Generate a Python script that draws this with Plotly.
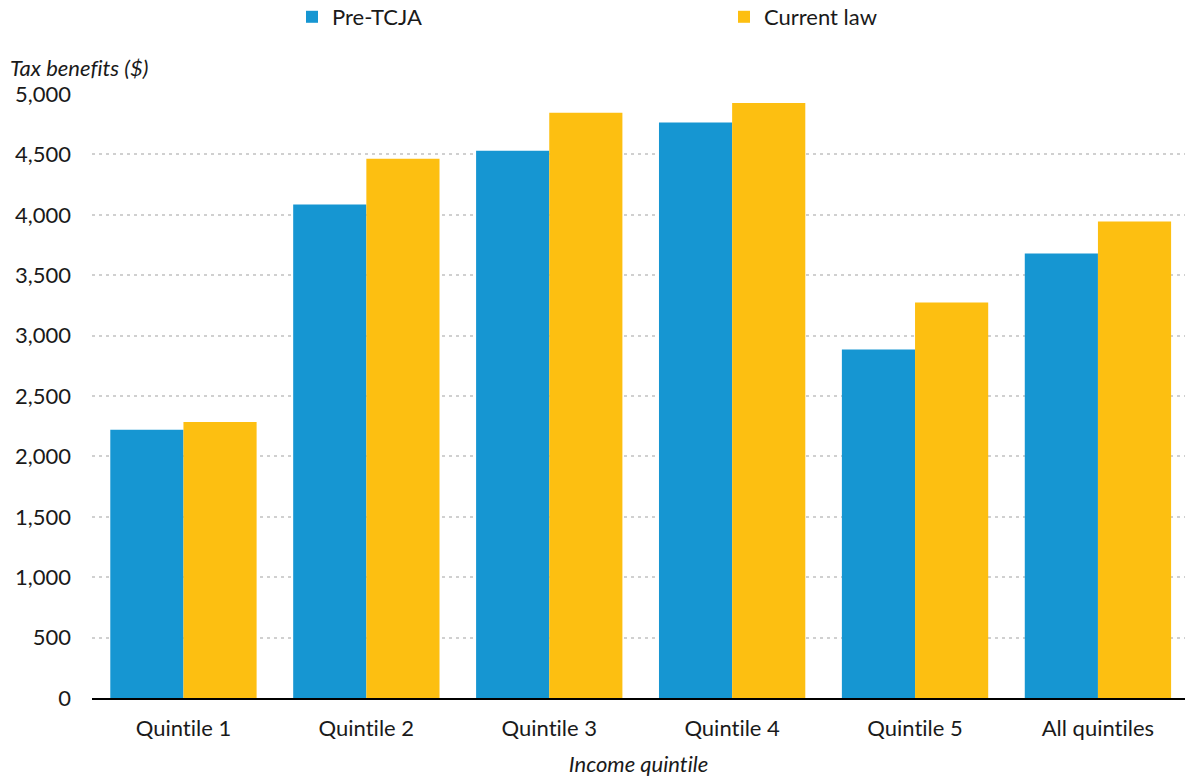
import plotly.graph_objects as go

categories = ["Quintile 1", "Quintile 2", "Quintile 3", "Quintile 4", "Quintile 5", "All quintiles"]
pre_tcja = [2220, 4085, 4530, 4765, 2885, 3680]
current_law = [2285, 4465, 4845, 4925, 3275, 3945]
y_ticks = [0, 500, 1000, 1500, 2000, 2500, 3000, 3500, 4000, 4500, 5000]
y_labels = ["0", "500", "1,000", "1,500", "2,000", "2,500", "3,000", "3,500", "4,000", "4,500", "5,000"]

FONT = "Lato"
TXT = "#1a1a1a"
FS = 22
ZWNJ = "\u200c"  # prevents the Lato 'ti'/'fi' ligatures, as in the reference


def no_lig(s):
    return s.replace("ti", "t" + ZWNJ + "i").replace("fi", "f" + ZWNJ + "i")


fig = go.Figure()
fig.add_trace(go.Bar(name="Pre-TCJA", x=categories, y=pre_tcja, showlegend=True,
                     marker=dict(color="#1696d2", line=dict(width=0)), legend="legend"))
fig.add_trace(go.Bar(name="Current law", x=categories, y=current_law, showlegend=True,
                     marker=dict(color="#fdbf11", line=dict(width=0)), legend="legend2"))

leg_common = dict(orientation="h", yanchor="middle", y=1.1275, xanchor="left",
                  font=dict(size=FS, color=TXT, family=FONT), bgcolor="rgba(0,0,0,0)",
                  borderwidth=0)

fig.update_layout(
    width=1185, height=778,
    showlegend=True,
    margin=dict(l=92, r=0, t=94, b=80, autoexpand=False),
    paper_bgcolor="white", plot_bgcolor="white",
    font=dict(family=FONT, size=FS, color=TXT),
    barmode="group", bargap=0.2, bargroupgap=0,
    legend=dict(x=(292 - 92) / 1093, **leg_common),
    legend2=dict(x=(724 - 92) / 1093, **leg_common),
    xaxis=dict(range=[-0.5, 5.476], showgrid=False, showline=True, linecolor="black", linewidth=2,
               tickvals=categories, ticktext=[no_lig(c) for c in categories],
               ticks="", ticklabelstandoff=10, tickfont=dict(size=FS, color=TXT),
               title=dict(text="<i>" + no_lig("Income quintile") + "</i>",
                          font=dict(size=FS, color=TXT), standoff=16)),
    yaxis=dict(range=[0, 5000], tickvals=y_ticks, ticktext=y_labels, showgrid=True,
               gridcolor="#d0d0d0", griddash="3px,4px", gridwidth=2, zeroline=False,
               ticks="", ticklabelstandoff=20, tickfont=dict(size=FS, color=TXT)),
    annotations=[dict(text="<i>" + no_lig("Tax benefits ($)") + "</i>", xref="paper", yref="paper",
                      x=(8 - 92) / 1093, y=(698 - 68) / 604,
                      xanchor="left", yanchor="middle", showarrow=False,
                      font=dict(size=FS, color=TXT))],
)

fig.write_html("out.html")
